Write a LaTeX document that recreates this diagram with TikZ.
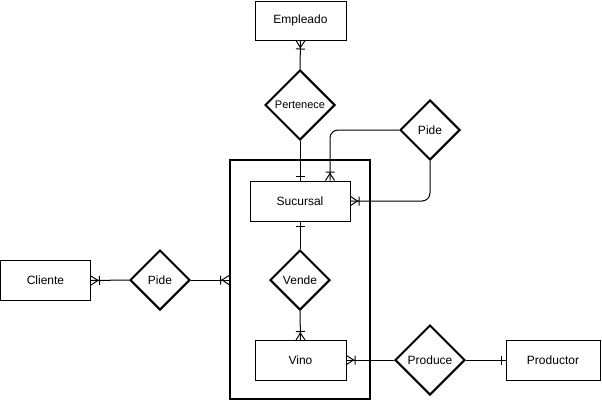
\documentclass[tikz,border=0pt]{standalone}
\usepackage{fontspec}
\setmainfont{Liberation Sans}
\usetikzlibrary{shapes.geometric,arrows.meta}
\pgfdeclarearrow{
  name=ERmany,
  setup code={
    \pgfarrowssettipend{0pt}
    \pgfarrowssetlineend{0pt}
    \pgfarrowssetbackend{-9pt}
    \pgfarrowssetvisualbackend{-9pt}
    \pgfarrowshullpoint{0pt}{4.5pt}
    \pgfarrowshullpoint{0pt}{-4.5pt}
    \pgfarrowshullpoint{-9pt}{4.5pt}
    \pgfarrowshullpoint{-9pt}{-4.5pt}
  },
  drawing code={
    \pgfsetdash{}{0pt}
    \pgfpathmoveto{\pgfpoint{0pt}{4.5pt}}
    \pgfpathlineto{\pgfpoint{-7pt}{0pt}}
    \pgfpathlineto{\pgfpoint{0pt}{-4.5pt}}
    \pgfpathmoveto{\pgfpoint{-8.5pt}{4.5pt}}
    \pgfpathlineto{\pgfpoint{-8.5pt}{-4.5pt}}
    \pgfusepathqstroke
  },
  defaults={}
}
\pgfdeclarearrow{
  name=ERone,
  setup code={
    \pgfarrowssettipend{0pt}
    \pgfarrowssetlineend{0pt}
    \pgfarrowssetbackend{-5pt}
    \pgfarrowssetvisualbackend{-5pt}
    \pgfarrowshullpoint{0pt}{4.5pt}
    \pgfarrowshullpoint{0pt}{-4.5pt}
    \pgfarrowshullpoint{-5pt}{4.5pt}
    \pgfarrowshullpoint{-5pt}{-4.5pt}
  },
  drawing code={
    \pgfsetdash{}{0pt}
    \pgfpathmoveto{\pgfpoint{-4.5pt}{4.5pt}}
    \pgfpathlineto{\pgfpoint{-4.5pt}{-4.5pt}}
    \pgfusepathqstroke
  },
  defaults={}
}
\tikzset{
  entity/.style={draw, line width=1pt, fill=white, minimum width=90pt, minimum height=40pt, inner sep=0pt, font=\fontsize{12}{14}\selectfont},
  relation/.style={draw, diamond, aspect=1, line width=2pt, fill=white, inner sep=0pt, minimum width=60pt, minimum height=60pt, font=\fontsize{12}{14}\selectfont},
  aggbox/.style={draw, line width=2pt, inner sep=0pt},
  link/.style={line width=1pt},
}
\begin{document}
\begin{tikzpicture}[x=1pt,y=-1pt]
\useasboundingbox (0,0) rectangle (602,402);
\node[aggbox, minimum width=140pt, minimum height=239pt] (agg) at (300,279.5) {};
\node[entity, minimum width=91pt, minimum height=39pt] (emp) at (300.5,20.5) {Empleado};
\node[relation, minimum width=70pt, minimum height=70pt, font=\fontsize{11}{13}\selectfont] (per) at (300,105) {Pertenece};
\node[entity, minimum width=100pt] (suc) at (300,201) {Sucursal};
\node[relation] (pide2) at (430,130) {Pide};
\node[relation] (ven) at (300,280) {Vende};
\node[entity, minimum width=91pt] (vino) at (300.5,360.5) {Vino};
\node[entity] (cli) at (45.5,280.5) {Cliente};
\node[relation] (pide1) at (160,280) {Pide};
\node[relation, minimum width=70pt, minimum height=70pt] (prod) at (430,360) {Produce};
\node[entity, minimum width=94pt] (ptor) at (553,360.5) {Productor};
\coordinate (sucT) at ([xshift=30pt]suc.north);
\draw[link, -ERmany] (per.north) -- (emp.south);
\draw[link, -ERone] (per.south) -- (suc.north);
\draw[link, -ERone] (ven.north) -- (suc.south);
\draw[link, -ERmany] (ven.south) -- (vino.north);
\draw[link, -ERmany] (pide1.west) -- (cli.east);
\draw[link, -ERmany] (pide1.east) -- (agg.west |- pide1.east);
\draw[link, -ERmany] (prod.west) -- (vino.east |- prod.west);
\draw[link, -ERone] (prod.east) -- (ptor.west |- prod.east);
\draw[link, rounded corners=8pt, -ERmany] (pide2.west) -| (sucT);
\draw[link, rounded corners=8pt, -ERmany] (pide2.south) |- (suc.east);
\end{tikzpicture}
\end{document}
